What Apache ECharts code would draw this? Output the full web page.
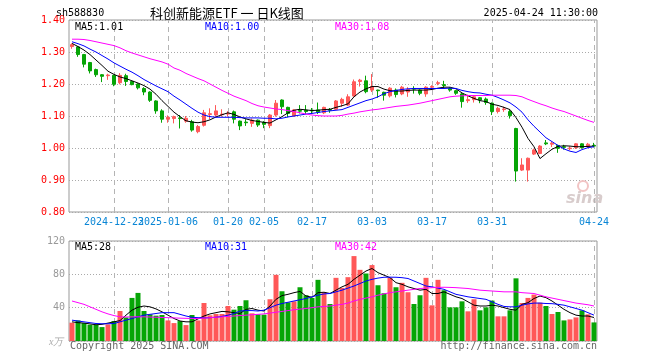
<!DOCTYPE html>
<html><head><meta charset="utf-8">
<script src="https://cdn.jsdelivr.net/npm/echarts@6/dist/echarts.min.js"></script>
<style>html,body{margin:0;padding:0;background:#fff}#c{width:660px;height:360px}</style>
</head><body><div id="c"></div>
<script>
const dates = ['2024-12-12','2024-12-13','2024-12-16','2024-12-17','2024-12-18','2024-12-19','2024-12-20','2024-12-23','2024-12-24','2024-12-25',
'2024-12-26','2024-12-27','2024-12-30','2024-12-31','2025-01-02','2025-01-03','2025-01-06','2025-01-07','2025-01-08','2025-01-09',
'2025-01-10','2025-01-13','2025-01-14','2025-01-15','2025-01-16','2025-01-17','2025-01-20','2025-01-21','2025-01-22','2025-01-23',
'2025-01-24','2025-01-27','2025-02-05','2025-02-06','2025-02-07','2025-02-10','2025-02-11','2025-02-12','2025-02-13','2025-02-14',
'2025-02-17','2025-02-18','2025-02-19','2025-02-20','2025-02-21','2025-02-24','2025-02-25','2025-02-26','2025-02-27','2025-02-28',
'2025-03-03','2025-03-04','2025-03-05','2025-03-06','2025-03-07','2025-03-10','2025-03-11','2025-03-12','2025-03-13','2025-03-14',
'2025-03-17','2025-03-18','2025-03-19','2025-03-20','2025-03-21','2025-03-24','2025-03-25','2025-03-26','2025-03-27','2025-03-28',
'2025-03-31','2025-04-01','2025-04-02','2025-04-03','2025-04-07','2025-04-08','2025-04-09','2025-04-10','2025-04-11','2025-04-14',
'2025-04-15','2025-04-16','2025-04-17','2025-04-18','2025-04-21','2025-04-22','2025-04-23','2025-04-24'];

const openP = [1.317,1.316,1.292,1.267,1.245,1.229,1.226,1.227,1.204,1.226,
1.208,1.200,1.186,1.175,1.147,1.116,1.090,1.092,1.094,1.084,
1.082,1.051,1.071,1.105,1.103,1.104,1.106,1.113,1.084,1.081,
1.077,1.087,1.080,1.070,1.103,1.150,1.127,1.100,1.117,1.118,
1.118,1.119,1.110,1.120,1.121,1.140,1.134,1.1625,1.208,1.210,
1.181,1.181,1.174,1.163,1.181,1.169,1.175,1.186,1.181,1.169,
1.190,1.202,1.198,1.186,1.179,1.169,1.148,1.151,1.157,1.153,
1.140,1.114,1.120,1.114,1.061,0.931,0.931,0.981,0.983,1.016,
1.012,1.008,1.004,0.998,1.001,1.013,1.005,1.008];
const closeP = [1.323,1.292,1.262,1.241,1.229,1.224,1.228,1.199,1.227,1.208,
1.198,1.188,1.175,1.149,1.116,1.090,1.096,1.098,1.092,1.093,
1.056,1.067,1.110,1.107,1.116,1.106,1.108,1.090,1.069,1.079,
1.087,1.072,1.074,1.103,1.140,1.129,1.108,1.119,1.115,1.114,
1.116,1.112,1.127,1.118,1.147,1.152,1.160,1.207,1.212,1.176,
1.192,1.179,1.165,1.187,1.167,1.190,1.183,1.184,1.171,1.190,
1.192,1.204,1.195,1.181,1.171,1.145,1.151,1.160,1.150,1.142,
1.114,1.124,1.122,1.101,0.928,0.947,0.968,0.994,1.006,1.013,
1.015,0.999,1.002,1.000,1.013,1.001,1.012,1.006];
const lowP = [1.310,1.285,1.252,1.233,1.222,1.206,1.213,1.193,1.199,1.194,
1.196,1.183,1.165,1.144,1.107,1.079,1.079,1.077,1.061,1.079,
1.051,1.046,1.067,1.090,1.098,1.098,1.098,1.077,1.056,1.069,
1.066,1.066,1.062,1.062,1.098,1.106,1.096,1.099,1.108,1.106,
1.106,1.106,1.106,1.110,1.119,1.129,1.131,1.160,1.192,1.171,
1.175,1.157,1.148,1.158,1.158,1.165,1.160,1.170,1.165,1.160,
1.181,1.196,1.186,1.176,1.166,1.126,1.141,1.142,1.140,1.135,
1.103,1.108,1.113,1.092,0.895,0.928,0.895,0.978,0.981,1.009,
1.003,0.985,0.995,0.993,0.997,0.998,1.000,1.002];
const highP = [1.327,1.318,1.294,1.269,1.248,1.231,1.232,1.229,1.234,1.232,
1.210,1.202,1.190,1.177,1.149,1.121,1.102,1.101,1.103,1.100,
1.088,1.072,1.119,1.124,1.134,1.121,1.115,1.117,1.086,1.090,
1.092,1.089,1.084,1.106,1.150,1.152,1.129,1.122,1.134,1.134,
1.125,1.142,1.129,1.125,1.150,1.157,1.168,1.214,1.216,1.226,
1.231,1.182,1.176,1.190,1.186,1.194,1.190,1.193,1.183,1.193,
1.196,1.210,1.210,1.190,1.181,1.172,1.167,1.164,1.159,1.158,
1.142,1.129,1.129,1.119,1.063,0.968,0.970,0.998,1.009,1.025,
1.020,1.010,1.010,1.005,1.015,1.015,1.016,1.016];

const ma5 = [1.327,1.317,1.306,1.292,1.275,1.258,1.240,1.230,1.222,1.217,
1.210,1.203,1.195,1.184,1.168,1.148,1.130,1.112,1.098,1.085,
1.081,1.079,1.082,1.088,1.097,1.104,1.110,1.105,1.097,1.091,
1.086,1.083,1.080,1.078,1.088,1.098,1.110,1.118,1.121,1.119,
1.117,1.118,1.120,1.121,1.127,1.132,1.138,1.160,1.175,1.185,
1.192,1.192,1.184,1.179,1.178,1.178,1.180,1.181,1.181,1.181,
1.183,1.187,1.190,1.190,1.185,1.172,1.163,1.155,1.148,1.145,
1.137,1.133,1.127,1.120,1.095,1.065,1.030,1.004,0.967,0.982,
0.996,1.005,1.007,1.006,1.004,1.004,1.005,1.006];
const ma10 = [1.332,1.326,1.319,1.309,1.300,1.289,1.278,1.266,1.256,1.246,
1.237,1.226,1.214,1.204,1.194,1.185,1.176,1.162,1.150,1.137,
1.124,1.112,1.103,1.098,1.096,1.096,1.096,1.096,1.095,1.094,
1.094,1.094,1.093,1.093,1.091,1.093,1.097,1.100,1.103,1.106,
1.108,1.111,1.114,1.116,1.118,1.120,1.127,1.134,1.141,1.148,
1.153,1.160,1.170,1.176,1.180,1.183,1.185,1.186,1.186,1.186,
1.186,1.186,1.186,1.187,1.186,1.180,1.176,1.173,1.172,1.168,
1.165,1.158,1.150,1.141,1.128,1.112,1.088,1.068,1.050,1.032,
1.020,1.008,0.997,0.990,0.986,0.995,1.001,1.004];
const ma30 = [1.340,1.340,1.339,1.336,1.332,1.328,1.324,1.320,1.313,1.304,
1.297,1.291,1.285,1.279,1.274,1.269,1.262,1.250,1.243,1.233,
1.225,1.217,1.210,1.200,1.190,1.180,1.171,1.162,1.155,1.148,
1.139,1.132,1.128,1.125,1.122,1.120,1.117,1.114,1.110,1.106,
1.103,1.101,1.100,1.100,1.100,1.102,1.106,1.109,1.113,1.116,
1.119,1.121,1.124,1.127,1.130,1.132,1.134,1.137,1.140,1.144,
1.148,1.152,1.156,1.160,1.162,1.163,1.164,1.164,1.164,1.164,
1.165,1.165,1.165,1.165,1.164,1.160,1.152,1.145,1.138,1.132,
1.125,1.119,1.114,1.107,1.100,1.093,1.086,1.080];

const volume = [22,24.7,21.5,19.5,19.5,16.7,19.9,23.9,36,28.3,
51.7,57.7,36,32,30.4,31.2,24.7,21.5,23.9,19.1,
31.2,24.7,45.6,30.8,32.4,32.4,42,37.6,42,48.9,
33.2,32,31.6,50.1,79.4,59.7,46.4,47.6,64.5,54.9,
51.7,73.4,58.1,44.4,75.8,63.7,76.6,101.9,85.4,81,
91.1,66.9,57.3,75.8,64.5,69.8,58.5,44.4,54.9,75.8,
42.8,73.4,60.9,40.4,40.4,47.6,35.6,50.1,36.8,40.4,
48.5,29.6,29.6,36.8,75.2,45.6,51.7,55.7,46,42,
32.4,34.8,24.7,25.9,28.3,36.8,32,22.3];
const volMa5 = [23,22,21.5,20.5,19.5,20,21.5,23,24.5,31,
37,40.5,42,41,38.5,35,31,27,24,23,
23,26.5,30,32.5,34,35.5,35,34,33,38,
39,37,36,42,50,54.5,56,58,59.5,54,
52.5,58,58.5,57,61,65,68,74,79,84,
87,82,79,76,70,68,65,63,61,62,
57,57,59,56,53,51,47,43,42,42,
43,42,40,38,37,44,46,51,54,52,
48,43,38,34,31,30,30,28.2];
const volMa10 = [25,24,23,22,21,20.7,20.7,21,23,25,
27,29,31,32,33,34,34,34,32,30,
28.5,28,27.7,28,28.5,29.5,31,33,36,36.5,
36.5,36,37,40,43,45,46.5,48,49.5,51,
53,55,56.5,57,59,61,63.5,66,69,72,
74,75.5,76.5,76.6,76.5,76,75,72,69,66,
65,63.5,62,59,56,54.5,53,52,51,50,
47,44,41.5,41,41,43,44.5,45.5,45.5,45,
44.8,44,43,41,39,37,34,31];
const volMa30 = [48,46,44,41,38,35,32.5,30.5,29,28.8,
29,29,29,28.8,28.5,28.2,28,27.7,27.4,27.2,
27,27,27.5,28,28.5,29,29.5,30,30.5,31,
31.5,32,32.5,33.5,34.5,35.5,36.5,37.5,38.3,39,
40,41,41.5,42,43,44,45.5,48,50,51.5,
53,55,56.5,58,59,60,61,62,63,63.5,
64,64.3,64.5,64.3,64,63.5,63,62,61,60.5,
60,59.5,59,59,59,58,57.5,57,55,53,
51.5,50,48.5,47,45.5,44.5,43.5,42];

const tickDates = ['2024-12-23','2025-01-06','2025-01-20','2025-02-05','2025-02-17','2025-03-03','2025-03-17','2025-03-31','2025-04-24'];
const tickLabels = ['2024-12-23','2025-01-06','01-20','02-05','02-17','03-03','03-17','03-31','04-24'];
const priceMin = 0.8, priceMax = 1.4, priceStep = 0.1;
const volMin = 0, volMax = 120, volStep = 40;

const UP = '#ff5858', DOWN = '#06a506';
const MONO = '"DejaVu Sans Mono", "Liberation Mono", monospace';

const candleData = dates.map((d, i) => [openP[i], closeP[i], lowP[i], highP[i]]);
const volData = volume.map((v, i) => ({value: v, itemStyle: {color: closeP[i] >= openP[i] ? UP : DOWN}}));
const vLines = tickDates.map(d => ({xAxis: d}));
const markCfg = {silent: true, symbol: ['none', 'none'], label: {show: false},
  lineStyle: {color: '#b4b4b4', type: [5, 4], width: 1}, data: vLines, animation: false};

const last = a => a[a.length - 1];
// labels split over two axes so that the overlapping first pair both show
const labelSetA = tickDates.filter((d, k) => k % 2 === 0);
const labelSetB = tickDates.filter((d, k) => k % 2 === 1);
const xLabelAxis = (set) => ({type: 'category', gridIndex: 0, data: dates, boundaryGap: true, position: 'bottom',
  axisLine: {show: false}, axisTick: {show: false}, splitLine: {show: false},
  axisLabel: {interval: (i, v) => set.includes(v), formatter: v => tickLabels[tickDates.indexOf(v)],
    color: '#0a86d6', fontFamily: MONO, fontSize: 10, margin: 5, hideOverlap: false}});

const chart = echarts.init(document.getElementById('c'), null, {renderer: 'canvas'});
chart.setOption({
  animation: false,
  backgroundColor: '#fff',
  grid: [
    {left: 69, top: 20, width: 528, height: 192, show: true, borderColor: '#999', borderWidth: 1, backgroundColor: 'transparent'},
    {left: 69, top: 241, width: 528, height: 100, show: true, borderColor: '#999', borderWidth: 1, backgroundColor: 'transparent'}
  ],
  xAxis: [
    xLabelAxis(labelSetA),
    {type: 'category', gridIndex: 1, data: dates, boundaryGap: true,
     axisLine: {show: false}, axisTick: {show: false}, splitLine: {show: false}, axisLabel: {show: false}},
    Object.assign(xLabelAxis(labelSetB), {offset: 0})
  ],
  yAxis: [
    {type: 'value', gridIndex: 0, min: priceMin, max: priceMax, interval: priceStep,
     axisLine: {show: false}, axisTick: {show: false},
     axisLabel: {formatter: v => v.toFixed(2), color: '#f00', fontFamily: MONO, fontSize: 10, margin: 4},
     splitLine: {show: true, lineStyle: {color: '#aaa', type: [1, 2], width: 1}}},
    {type: 'value', gridIndex: 1, min: volMin, max: volMax, interval: volStep,
     axisLine: {show: false}, axisTick: {show: false},
     axisLabel: {formatter: v => v === 0 ? '' : String(v), color: '#999', fontFamily: MONO, fontSize: 10, margin: 4},
     splitLine: {show: true, lineStyle: {color: '#aaa', type: [1, 2], width: 1}}}
  ],
  series: [
    {type: 'candlestick', xAxisIndex: 0, yAxisIndex: 0, data: candleData, barWidth: 4, z: 6,
     itemStyle: {color: UP, color0: DOWN, borderColor: UP, borderColor0: DOWN, borderWidth: 1},
     markLine: markCfg},
    {type: 'line', xAxisIndex: 0, yAxisIndex: 0, data: ma5, showSymbol: false, z: 7, lineStyle: {color: '#000', width: 1}},
    {type: 'line', xAxisIndex: 0, yAxisIndex: 0, data: ma10, showSymbol: false, z: 7, lineStyle: {color: '#0000ff', width: 1}},
    {type: 'line', xAxisIndex: 0, yAxisIndex: 0, data: ma30, showSymbol: false, z: 7, lineStyle: {color: '#ff00ff', width: 1}},
    {type: 'bar', xAxisIndex: 1, yAxisIndex: 1, data: volData, barWidth: 5, z: 6, markLine: markCfg},
    {type: 'line', xAxisIndex: 1, yAxisIndex: 1, data: volMa5, showSymbol: false, z: 7, lineStyle: {color: '#000', width: 1}},
    {type: 'line', xAxisIndex: 1, yAxisIndex: 1, data: volMa10, showSymbol: false, z: 7, lineStyle: {color: '#0000ff', width: 1}},
    {type: 'line', xAxisIndex: 1, yAxisIndex: 1, data: volMa30, showSymbol: false, z: 7, lineStyle: {color: '#ff00ff', width: 1}}
  ],
  graphic: [
    {type: 'text', z: 20, style: {text: 'sh588830', x: 56, y: 13, fill: '#000', font: '10px ' + MONO, textVerticalAlign: 'middle'}},
    {type: 'text', z: 20, style: {text: '科创新能源ETF 一 日K线图', x: 150, y: 13, fill: '#000', font: '13px "Noto Sans CJK SC"', textVerticalAlign: 'middle'}},
    {type: 'text', z: 20, style: {text: '2025-04-24 11:30:00', x: 598, y: 13, fill: '#000', font: '10px ' + MONO, textAlign: 'right', textVerticalAlign: 'middle'}},
    {type: 'text', z: 20, style: {text: 'MA5:' + last(ma5).toFixed(2), x: 75, y: 27, fill: '#000', font: '10px ' + MONO, textVerticalAlign: 'middle'}},
    {type: 'text', z: 20, style: {text: 'MA10:' + last(ma10).toFixed(2), x: 205, y: 27, fill: '#0000ff', font: '10px ' + MONO, textVerticalAlign: 'middle'}},
    {type: 'text', z: 20, style: {text: 'MA30:' + last(ma30).toFixed(2), x: 335, y: 27, fill: '#ff00ff', font: '10px ' + MONO, textVerticalAlign: 'middle'}},
    {type: 'text', z: 20, style: {text: 'MA5:' + Math.round(last(volMa5)), x: 75, y: 247, fill: '#000', font: '10px ' + MONO, textVerticalAlign: 'middle'}},
    {type: 'text', z: 20, style: {text: 'MA10:' + Math.round(last(volMa10)), x: 205, y: 247, fill: '#0000ff', font: '10px ' + MONO, textVerticalAlign: 'middle'}},
    {type: 'text', z: 20, style: {text: 'MA30:' + Math.round(last(volMa30)), x: 335, y: 247, fill: '#ff00ff', font: '10px ' + MONO, textVerticalAlign: 'middle'}},
    {type: 'text', z: 20, style: {text: 'x万', x: 49, y: 342, fill: '#aaa', font: 'italic 10px serif', textVerticalAlign: 'middle'}},
    {type: 'text', z: 20, style: {text: 'Copyright 2025 SINA.COM', x: 70, y: 346, fill: '#666', font: '10px ' + MONO, textVerticalAlign: 'middle'}},
    {type: 'text', z: 20, style: {text: 'http://finance.sina.com.cn', x: 597, y: 346, fill: '#666', font: '10px ' + MONO, textAlign: 'right', textVerticalAlign: 'middle'}},
    {type: 'circle', z: 1, shape: {cx: 583, cy: 186, r: 5}, style: {fill: 'none', stroke: '#f2c4c4', lineWidth: 2}},
    {type: 'text', z: 1, style: {text: 'sina', x: 566, y: 199, fill: '#d8cccc', font: 'italic bold 16px "DejaVu Sans"', textVerticalAlign: 'middle'}}
  ]
});
</script></body></html>
